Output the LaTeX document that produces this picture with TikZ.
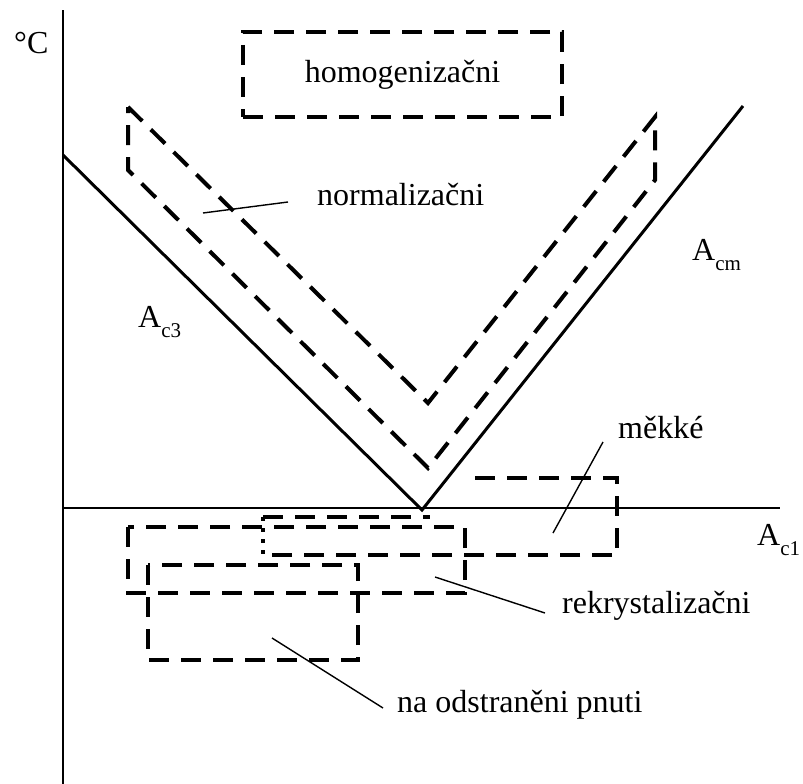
\documentclass[tikz,border=0pt]{standalone}
\usepackage{fontspec}
\setmainfont{Liberation Serif}
\usetikzlibrary{positioning}

\newcommand{\lowsub}[1]{\raisebox{-0.32em}{\fontsize{21}{21}\selectfont #1}}

\begin{document}
\begin{tikzpicture}[
  x=1pt,y=-1pt,
  axis/.style={line width=2.4pt},
  line/.style={line width=3pt},
  zone/.style={line width=4pt,dash pattern=on 20pt off 12pt},
  leader/.style={line width=1.4pt},
  label/.style={font=\fontsize{32}{38}\selectfont,inner sep=0pt}
]
\useasboundingbox (0,0) rectangle (803,784);

% Axes: temperature up, composition along the A_c1 line.
\coordinate (ybot) at (63,784);
\coordinate (ytop) at (63,10);
\coordinate (xleft) at (63,508);
\coordinate (xright) at (780,508);
\draw[line width=2pt] (ybot) -- (ytop);
\draw[axis] (xleft) -- (xright);
\node[label,anchor=base west] (degc) at (14,53) {°C};

% A_c3 and A_cm lines meeting on A_c1
\coordinate (ac3top) at (63,155);
\coordinate (eut) at (422,510);
\coordinate (acmtop) at (743,106);
\draw[line] (ac3top) -- (eut) -- (acmtop);
\node[label,anchor=base west] (ac3) at (138,327) {A\lowsub{c3}};
\node[label,anchor=base west] (acm) at (692,260) {A\lowsub{cm}};
\node[label,anchor=base west] (ac1) at (757,545) {A\lowsub{c1}};

% Homogenizing
\node[zone,draw,label,minimum width=319pt,minimum height=85pt] (homog) at (402.5,74.5) {homogenizačni};

% Normalizing band above A_c3 / A_cm
\draw[zone] (128,107) -- (428,403) -- (655,117) -- (655,180) -- (428,468) -- (128,170) -- cycle;
\coordinate (normtip) at (203,213);
\node[label,anchor=base west] (normtxt) at (317,205) {normalizačni};
\draw[leader] (normtip) -- ([shift={(-29pt,3pt)}]normtxt.base west);

% Soft annealing
\draw[zone] (475,478) -- (617,478) -- (617,555) -- (263,555);
\draw[zone] (263,517) -- (430,517);
\draw[line width=4pt,dash pattern=on 4pt off 7pt] (263,517) -- (263,555);
\coordinate (mekktip) at (553,533);
\node[label,anchor=base west] (mekktxt) at (618,438) {měkké};
\draw[leader] (mekktip) -- ([shift={(-15pt,-4pt)}]mekktxt.base west);

% Recrystallization
\draw[zone] (128,527) rectangle (465,593);
\coordinate (rektip) at (435,577);
\node[label,anchor=base west] (rektxt) at (562,613) {rekrystalizačni};
\draw[leader] (rektip) -- ([shift={(-17pt,0pt)}]rektxt.base west);

% Stress relief
\draw[zone] (148,565) rectangle (358,660);
\coordinate (pnutip) at (272,638);
\node[label,anchor=base west] (pnutxt) at (397,712) {na odstraněni pnuti};
\draw[leader] (pnutip) -- ([shift={(-14pt,4pt)}]pnutxt.base west);
\end{tikzpicture}
\end{document}
